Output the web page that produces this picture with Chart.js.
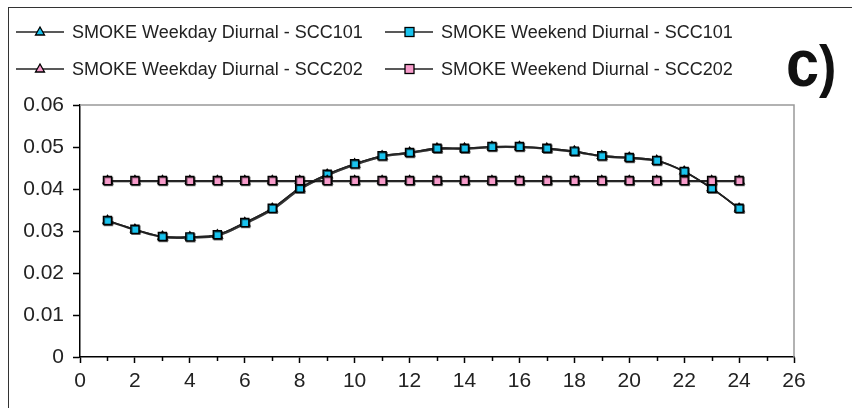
<!DOCTYPE html>
<html>
<head>
<meta charset="utf-8">
<script src="https://cdn.jsdelivr.net/npm/chart.js@4/dist/chart.umd.min.js"></script>
<style>
  body { margin: 0; background: #fff; font-family: "Liberation Sans", Arial, sans-serif; }
  #wrap { position: relative; width: 852px; height: 408px; overflow: hidden; }
  #frame { position: absolute; left: 8px; top: 7px; width: 900px; height: 450px;
           border-left: 1.5px solid #333; border-top: 1.5px solid #333; }
  canvas { position: absolute; left: 0; top: 0; }
  .lg { position: absolute; height: 20px; display: flex; align-items: center; font-size: 18px; color: #222; white-space: nowrap; }
  .lg svg { margin-right: 8px; }
  #tag { position: absolute; left: 786px; top: 30px; font-weight: bold; font-size: 58px; color: #111;
         transform: scaleX(0.9); transform-origin: left top; line-height: 1; }
  #tag .c { font-size: 66px; }
</style>
</head>
<body>
<div id="wrap">
  <div id="frame"></div>
  <canvas id="chart" width="852" height="408"></canvas>
  <div id="legend"></div>
  <div id="tag"><span class="c">c</span>)</div>
</div>
<script>
const hours = [1, 2, 3, 4, 5, 6, 7, 8, 9, 10, 11, 12, 13, 14, 15, 16, 17, 18, 19, 20, 21, 22, 23, 24];

const weekday101 = [0.0325, 0.0304, 0.0287, 0.0286, 0.0291, 0.0320, 0.0354, 0.0402, 0.0435, 0.0460, 0.0479, 0.0487,
                    0.0497, 0.0497, 0.0501, 0.0501, 0.0497, 0.0490, 0.0479, 0.0475, 0.0468, 0.0442, 0.0402, 0.0354];
const weekend101 = [0.0325, 0.0304, 0.0287, 0.0286, 0.0291, 0.0320, 0.0354, 0.0402, 0.0435, 0.0460, 0.0479, 0.0487,
                    0.0497, 0.0497, 0.0501, 0.0501, 0.0497, 0.0490, 0.0479, 0.0475, 0.0468, 0.0442, 0.0402, 0.0354];
const weekday202 = [0.042, 0.042, 0.042, 0.042, 0.042, 0.042, 0.042, 0.042, 0.042, 0.042, 0.042, 0.042,
                    0.042, 0.042, 0.042, 0.042, 0.042, 0.042, 0.042, 0.042, 0.042, 0.042, 0.042, 0.042];
const weekend202 = [0.042, 0.042, 0.042, 0.042, 0.042, 0.042, 0.042, 0.042, 0.042, 0.042, 0.042, 0.042,
                    0.042, 0.042, 0.042, 0.042, 0.042, 0.042, 0.042, 0.042, 0.042, 0.042, 0.042, 0.042];

const seriesNames = [
    'SMOKE Weekday Diurnal - SCC101',
    'SMOKE Weekend Diurnal - SCC101',
    'SMOKE Weekday Diurnal - SCC202',
    'SMOKE Weekend Diurnal - SCC202'
];

const blue = '#19c3ee';
const pink = '#f79ccb';

const xTicks = [0, 2, 4, 6, 8, 10, 12, 14, 16, 18, 20, 22, 24, 26];
const yTicks = [0, 0.01, 0.02, 0.03, 0.04, 0.05, 0.06];

function toPoints(values) {
    return hours.map((h, i) => ({ x: h, y: values[i] }));
}

function makeSet(label, values, color, style, order, tension) {
    return {
        label: label,
        data: toPoints(values),
        borderColor: '#222',
        borderWidth: 1.4,
        tension: tension,
        pointStyle: style,
        pointRadius: style === 'rect' ? 5.7 : 5,
        pointBackgroundColor: color,
        pointBorderColor: '#000',
        pointBorderWidth: 1.4,
        order: order
    };
}

// short ticks at odd hours, like the original axis
const minorTicks = {
    id: 'minorTicks',
    afterDraw(chart) {
        const x = chart.scales.x;
        const ctx = chart.ctx;
        ctx.save();
        ctx.strokeStyle = '#000';
        ctx.lineWidth = 1.5;
        for (let v = 1; v < 26; v += 2) {
            const px = Math.round(x.getPixelForValue(v)) + 0.5;
            ctx.beginPath();
            ctx.moveTo(px, x.top);
            ctx.lineTo(px, x.top + 4);
            ctx.stroke();
        }
        ctx.restore();
    }
};

// gray frame on top and right of the plot area
const plotFrame = {
    id: 'plotFrame',
    beforeDatasetsDraw(chart) {
        const a = chart.chartArea;
        const ctx = chart.ctx;
        ctx.save();
        ctx.strokeStyle = '#999';
        ctx.lineWidth = 1.5;
        ctx.beginPath();
        ctx.moveTo(a.left, a.top);
        ctx.lineTo(a.right, a.top);
        ctx.lineTo(a.right, a.bottom);
        ctx.stroke();
        ctx.restore();
    }
};

// small dark shadow under markers and lines
const shadow = {
    id: 'shadow',
    beforeDatasetsDraw(chart) {
        chart.ctx.save();
        chart.ctx.shadowColor = 'rgba(0,0,0,0.55)';
        chart.ctx.shadowOffsetX = 1;
        chart.ctx.shadowOffsetY = 1;
    },
    afterDatasetsDraw(chart) {
        chart.ctx.restore();
    }
};

new Chart(document.getElementById('chart'), {
    type: 'line',
    data: {
        datasets: [
            makeSet(seriesNames[0], weekday101, blue, 'triangle', 3, 0.35),
            makeSet(seriesNames[1], weekend101, blue, 'rect', 2, 0.35),
            makeSet(seriesNames[2], weekday202, pink, 'triangle', 1, 0),
            makeSet(seriesNames[3], weekend202, pink, 'rect', 0, 0)
        ]
    },
    options: {
        responsive: false,
        animation: false,
        layout: { padding: { left: 0, top: 105, right: 58, bottom: 0 } },
        plugins: { legend: { display: false }, tooltip: { enabled: false } },
        scales: {
            x: {
                type: 'linear',
                min: 0,
                max: 26,
                afterBuildTicks: s => { s.ticks = xTicks.map(v => ({ value: v })); },
                afterFit: s => { s.height = 51; },
                border: { color: '#000', width: 1.5 },
                grid: { drawOnChartArea: false, tickLength: 6, tickColor: '#000', tickWidth: 1.5 },
                ticks: { color: '#222', font: { family: 'Liberation Sans', size: 21 }, padding: 6, autoSkip: false, maxRotation: 0 }
            },
            y: {
                min: 0,
                max: 0.06,
                afterBuildTicks: s => { s.ticks = yTicks.map(v => ({ value: v })); },
                afterFit: s => { s.width = 80; },
                border: { color: '#000', width: 1.5 },
                grid: { drawOnChartArea: false, tickLength: 7, tickColor: '#000', tickWidth: 1.5 },
                ticks: {
                    color: '#222',
                    font: { family: 'Liberation Sans', size: 21 },
                    padding: 9,
                    callback: v => String(+v.toFixed(2))
                }
            }
        }
    },
    plugins: [plotFrame, shadow, minorTicks]
});

// legend, two entries per row
const legendPos = [[16, 22], [385, 22], [16, 59], [385, 59]];
const legendColor = [blue, blue, pink, pink];
const legendShape = ['tri', 'sq', 'tri', 'sq'];
const legend = document.getElementById('legend');
seriesNames.forEach((name, i) => {
    const marker = legendShape[i] === 'tri'
        ? '<polygon points="24,5 28.5,13 19.5,13" fill="' + legendColor[i] + '" stroke="#000" stroke-width="1.3"/>'
        : '<rect x="20" y="5.5" width="9" height="9" fill="' + legendColor[i] + '" stroke="#000" stroke-width="1.3"/>';
    const el = document.createElement('div');
    el.className = 'lg';
    el.style.left = legendPos[i][0] + 'px';
    el.style.top = legendPos[i][1] + 'px';
    el.innerHTML = '<svg width="48" height="20"><line x1="0" y1="10" x2="48" y2="10" stroke="#222" stroke-width="1.4"/>' +
        marker + '</svg><span>' + name + '</span>';
    legend.appendChild(el);
});
</script>
</body>
</html>
